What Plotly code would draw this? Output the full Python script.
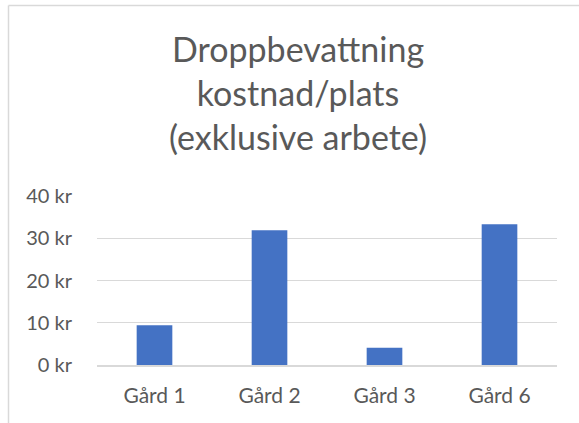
import plotly.graph_objects as go

categories = ["Gård 1", "Gård 2", "Gård 3", "Gård 6"]
values = [9.4, 31.9, 4.1, 33.3]
y_ticks = [0, 10, 20, 30, 40]
y_tick_labels = ["0 kr", "10 kr", "20 kr", "30 kr", "40 kr"]
title_lines = ["Droppbevattning", "kostnad/plats", "(exklusive arbete)"]

W, H = 579, 423
ML, MR, MT, MB = 97, 22, 196, 58
pw = W - ML - MR
ph = H - MT - MB

FONT = "Lato, 'Open Sans', sans-serif"
TXT = "#595959"
GRID = "#d9d9d9"

fig = go.Figure(go.Bar(
    x=categories, y=values, marker_color="#4472C4", marker_line_width=0,
    width=0.31,
))

def px_x(x):
    return (x - ML) / pw

def px_y(y):
    return (H - MB - y) / ph

fig.update_layout(
    width=W, height=H,
    margin=dict(l=ML, r=MR, t=MT, b=MB, autoexpand=False),
    paper_bgcolor="white", plot_bgcolor="white",
    showlegend=False,
    font=dict(family=FONT, color=TXT, size=20),
    xaxis=dict(showgrid=False, showline=True, linecolor=GRID, linewidth=2,
               ticks="", tickfont=dict(size=21, color=TXT),
               ticklabelstandoff=11),
    yaxis=dict(range=[0, 40], tickvals=y_ticks, ticktext=y_tick_labels,
               showgrid=True, gridcolor=GRID, gridwidth=1.3,
               zeroline=False, showline=False, ticks="",
               tickfont=dict(size=20, color=TXT), ticklabelstandoff=24),
    annotations=[dict(
        text="<br>".join(title_lines), xref="paper", yref="paper",
        x=px_x(297.5), y=px_y(26), xanchor="center", yanchor="top",
        showarrow=False, font=dict(size=34, color=TXT, family=FONT),
        align="center",
    )],
    shapes=[
        dict(type="line", xref="paper", yref="paper",
             x0=px_x(8.5), x1=px_x(8.5), y0=px_y(5.5), y1=px_y(430),
             line=dict(color=GRID, width=1.5)),
        dict(type="line", xref="paper", yref="paper",
             x0=px_x(8.5), x1=px_x(600), y0=px_y(5.5), y1=px_y(5.5),
             line=dict(color=GRID, width=1.5)),
    ],
)

fig.write_html("out.html", config={"displayModeBar": False},
               post_script="document.body.style.margin='0';document.body.style.overflow='hidden';")
